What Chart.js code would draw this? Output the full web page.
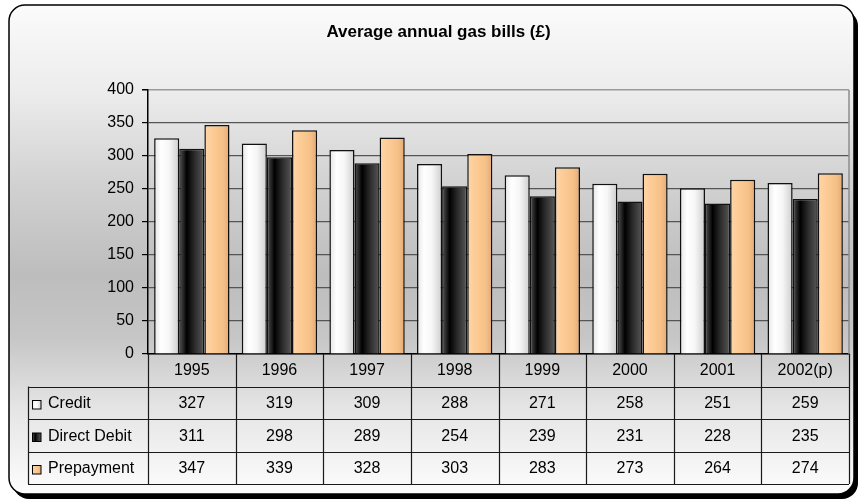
<!DOCTYPE html>
<html>
<head>
<meta charset="utf-8">
<title>Average annual gas bills</title>
<script src="https://cdn.jsdelivr.net/npm/chart.js@4.4.1/dist/chart.umd.min.js"></script>
<style>
  html, body { margin: 0; padding: 0; background: #ffffff; }
  #wrap { width: 859px; height: 502px; position: relative; }
</style>
</head>
<body>
<div id="wrap"><canvas id="chart" width="859" height="502"></canvas></div>
<script>
// ---- data ----
const categories = ['1995', '1996', '1997', '1998', '1999', '2000', '2001', '2002(p)'];
const seriesNames = ['Credit', 'Direct Debit', 'Prepayment'];
const credit      = [327, 319, 309, 288, 271, 258, 251, 259];
const directDebit = [311, 298, 289, 254, 239, 231, 228, 235];
const prepayment  = [347, 339, 328, 303, 283, 273, 264, 274];
const yMin = 0, yMax = 400, yStep = 50;

const FONT = "'Liberation Sans', Arial, sans-serif";
const CAT_PCT = 0.86;

// horizontal shading across each bar, giving a rounded look
const shades = [
  [[0, '#e4e4e4'], [0.28, '#ffffff'], [0.6, '#f6f6f6'], [1, '#cdcdcd']],
  [[0, '#555555'], [0.3, '#000000'], [0.62, '#2c2c2c'], [1, '#585858']],
  [[0, '#fdd6aa'], [0.35, '#fdcb94'], [0.75, '#f5c088'], [1, '#e2a874']]
];

function makeGradient(ctx2d, left, width, stops) {
  const g = ctx2d.createLinearGradient(left, 0, left + width, 0);
  stops.forEach(s => g.addColorStop(s[0], s[1]));
  return g;
}

function shadeFor(dsIndex) {
  return (ctx) => {
    const chart = ctx.chart;
    const xs = chart.scales && chart.scales.x;
    const stops = shades[dsIndex];
    if (ctx.type !== 'data' || !xs || !(xs.right > xs.left)) return stops[1][1];
    const catW = (xs.right - xs.left) / categories.length;
    const groupW = catW * CAT_PCT;
    const barW = groupW / seriesNames.length;
    const left = xs.getPixelForValue(ctx.dataIndex) - groupW / 2 + dsIndex * barW;
    return makeGradient(chart.ctx, left, barW, stops);
  };
}

// rounded frame with a drop shadow and a vertical grey wash behind everything
const framePlugin = {
  id: 'frame',
  beforeDraw(chart) {
    const c = chart.ctx;
    const x = 9, y = 5, w = 845, h = 489, r = 16;
    const path = (ox, oy) => {
      c.beginPath();
      c.moveTo(x + ox + r, y + oy);
      c.lineTo(x + ox + w - r, y + oy);
      c.arcTo(x + ox + w, y + oy, x + ox + w, y + oy + r, r);
      c.lineTo(x + ox + w, y + oy + h - r);
      c.arcTo(x + ox + w, y + oy + h, x + ox + w - r, y + oy + h, r);
      c.lineTo(x + ox + r, y + oy + h);
      c.arcTo(x + ox, y + oy + h, x + ox, y + oy + h - r, r);
      c.lineTo(x + ox, y + oy + r);
      c.arcTo(x + ox, y + oy, x + ox + r, y + oy, r);
      c.closePath();
    };
    c.save();
    c.fillStyle = '#ffffff';
    c.fillRect(0, 0, chart.width, chart.height);
    path(4, 5);
    c.fillStyle = '#000000';
    c.fill();
    const g = c.createLinearGradient(0, y, 0, y + h);
    g.addColorStop(0.00, '#fbfbfb');
    g.addColorStop(0.18, '#ececec');
    g.addColorStop(0.36, '#d2d2d2');
    g.addColorStop(0.55, '#bdbdbd');
    g.addColorStop(0.68, '#c6c6c6');
    g.addColorStop(0.82, '#e4e4e4');
    g.addColorStop(1.00, '#fdfdfd');
    path(0, 0);
    c.fillStyle = g;
    c.fill();
    c.lineWidth = 1.5;
    c.strokeStyle = '#000000';
    c.stroke();
    c.restore();
  }
};

// data table under the plot: category header row plus one row per series
const tablePlugin = {
  id: 'dataTable',
  afterDraw(chart) {
    const c = chart.ctx;
    const xs = chart.scales.x;
    const area = chart.chartArea;
    const top = area.bottom;
    const bottom = xs.bottom;
    const rowH = (bottom - top) / 4;
    const tableLeft = 28;
    const catW = (xs.right - xs.left) / categories.length;
    const rows = [credit, directDebit, prepayment];
    c.save();

    // plot frame on the right side
    c.strokeStyle = '#8c8c8c';
    c.lineWidth = 1.5;
    c.beginPath();
    c.moveTo(area.right, area.top);
    c.lineTo(area.right, area.bottom);
    c.stroke();

    c.strokeStyle = '#1a1a1a';
    c.lineWidth = 1.2;
    c.beginPath();
    for (let k = 0; k <= categories.length; k++) {
      const px = Math.round(xs.left + k * catW) + 0.5;
      c.moveTo(px, top);
      c.lineTo(px, bottom);
    }
    for (let r = 1; r <= 4; r++) {
      const py = Math.round(top + r * rowH) + 0.5;
      c.moveTo(tableLeft, py);
      c.lineTo(xs.right, py);
    }
    c.moveTo(tableLeft + 0.5, top + rowH);
    c.lineTo(tableLeft + 0.5, bottom);
    c.stroke();

    c.font = '16px ' + FONT;
    c.fillStyle = '#000000';
    c.textBaseline = 'middle';
    rows.forEach((vals, r) => {
      const cy = top + (r + 1.5) * rowH + 1;
      // legend key
      const kx = 32.5, ks = 8.5, ky = cy - ks / 2 + 1;
      c.fillStyle = makeGradient(c, kx, ks, shades[r]);
      c.fillRect(kx, ky, ks, ks);
      c.lineWidth = 1;
      c.strokeStyle = '#000000';
      c.strokeRect(kx, ky, ks, ks);
      c.fillStyle = '#000000';
      c.textAlign = 'left';
      c.fillText(seriesNames[r], 48, cy);
      c.textAlign = 'center';
      vals.forEach((v, i) => {
        c.fillText(String(v), xs.getPixelForValue(i), cy);
      });
    });
    c.restore();
  }
};

const datasets = [credit, directDebit, prepayment].map((vals, i) => ({
  label: seriesNames[i],
  data: vals,
  backgroundColor: shadeFor(i),
  borderColor: '#111111',
  borderWidth: 1.5,
  categoryPercentage: CAT_PCT,
  barPercentage: 1.0
}));

new Chart(document.getElementById('chart'), {
  type: 'bar',
  data: { labels: categories, datasets },
  plugins: [framePlugin, tablePlugin],
  options: {
    responsive: false,
    animation: false,
    devicePixelRatio: 1,
    layout: { padding: { left: 28, right: 10, top: 16, bottom: 18 } },
    plugins: {
      legend: { display: false },
      tooltip: { enabled: false },
      title: {
        display: true,
        text: 'Average annual gas bills (£)',
        color: '#000000',
        font: { family: FONT, size: 17, weight: 'bold', lineHeight: 1.0 },
        padding: { top: 8, bottom: 49 }
      }
    },
    scales: {
      x: {
        grid: { display: false, drawTicks: false },
        border: { display: true, color: '#000000', width: 1.5 },
        ticks: { color: '#000000', font: { family: FONT, size: 16 }, padding: 7, maxRotation: 0, autoSkip: false },
        afterFit(scale) { scale.height = 130; }
      },
      y: {
        min: yMin,
        max: yMax,
        ticks: { stepSize: yStep, color: '#000000', font: { family: FONT, size: 16 }, padding: 8 },
        grid: {
          color: (ctx) => (ctx.tick && ctx.tick.value === yMax ? '#9a9a9a' : '#555555'),
          lineWidth: (ctx) => (ctx.tick && ctx.tick.value === yMax ? 1.5 : 1.2),
          tickColor: '#000000',
          tickLength: 6,
          drawTicks: true
        },
        border: { display: true, color: '#000000', width: 1.5 },
        afterFit(scale) { scale.width = 120; }
      }
    }
  }
});
</script>
</body>
</html>
